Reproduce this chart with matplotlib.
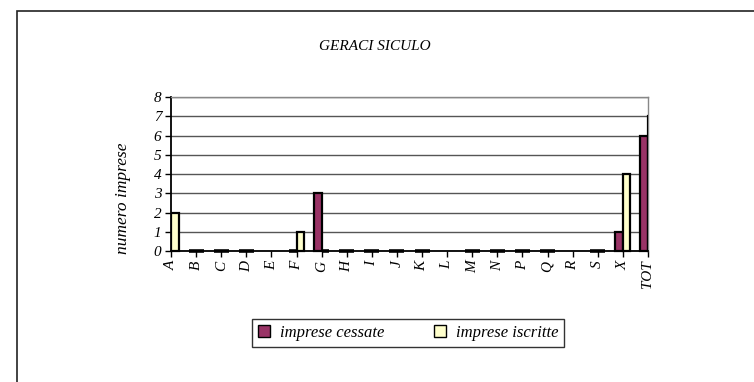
import numpy as np
import matplotlib
matplotlib.use("Agg")
import matplotlib.pyplot as plt
from matplotlib.patches import Rectangle
from matplotlib.transforms import Bbox, TransformedBbox

# Sector codes and counts of businesses
categories = ["A", "B", "C", "D", "E", "F", "G", "H", "I", "J", "K", "L",
              "M", "N", "P", "Q", "R", "S", "X", "TOT"]
cessate = [0, 0, 0, 0, np.nan, 0, 3, 0, 0, 0, 0, np.nan,
           0, 0, 0, 0, np.nan, 0, 1, 6]
iscritte = [2, 0, 0, 0, np.nan, 1, 0, 0, 0, 0, 0, np.nan,
            0, 0, 0, 0, np.nan, 0, 4, 7]
yticks = list(range(0, 9))

title = "GERACI SICULO"
ylabel = "numero imprese"
series_names = ["imprese cessate", "imprese iscritte"]

plt.rcParams["font.family"] = ["Liberation Serif", "DejaVu Serif"]

W, H = 754, 382
fig = plt.figure(figsize=(W / 100, H / 100), dpi=100)

# outer chart frame
fig.patches.append(Rectangle((17 / W, -0.1), 1.2, (1 - 11 / H) + 0.1,
                             transform=fig.transFigure, fill=False,
                             edgecolor="#222222", linewidth=1.2))

ax = fig.add_axes([171 / W, 1 - 251 / H, (648 - 171) / W, (251 - 97) / H])

x = np.arange(len(categories))
bw = 0.3
purple = "#993366"
yellow = "#FFFFCC"

b1 = ax.bar(x - bw / 2, cessate, width=bw, color=purple, edgecolor="black",
            linewidth=1.6, label=series_names[0], zorder=3)
b2 = ax.bar(x + bw / 2, iscritte, width=bw, color=yellow, edgecolor="black",
            linewidth=1.6, label=series_names[1], zorder=3)

# clip bars horizontally to the plot, but let zero-height bars show below the axis line
clip = TransformedBbox(Bbox([[0, -0.05], [1, 1.05]]), ax.transAxes)
for container, vals in ((b1, cessate), (b2, iscritte)):
    for patch, v in zip(container.patches, vals):
        patch.set_clip_box(clip)
        if v == 0:
            patch.set_linewidth(2.6)

ax.set_xlim(0, len(categories) - 1)
ax.set_ylim(0, 8)
ax.set_yticks(yticks)
ax.set_yticklabels([str(v) for v in yticks], fontstyle="italic", fontsize=11)
ax.set_xticks(x)
ax.set_xticklabels(categories, rotation=90, fontstyle="italic", fontsize=11)

ax.yaxis.grid(True, color="#555555", linewidth=1.0, zorder=0)
ax.set_axisbelow(True)

for side in ("left", "bottom"):
    ax.spines[side].set_color("black")
    ax.spines[side].set_linewidth(1.3)
for side in ("top", "right"):
    ax.spines[side].set_color("#888888")
    ax.spines[side].set_linewidth(1.0)

ax.tick_params(axis="both", direction="out", length=4, width=1.0,
               color="black", pad=3)

ax.set_ylabel(ylabel, fontstyle="italic", fontsize=12.5)
ax.yaxis.set_label_coords(-0.083, 0.34)
fig.text(375 / W, 1 - 46 / H, title, ha="center", va="center",
         fontstyle="italic", fontsize=11)

handles, labels = ax.get_legend_handles_labels()
leg = fig.legend(handles, labels, loc="center", ncol=2,
                 bbox_to_anchor=(408 / W, 1 - 333 / H),
                 prop={"style": "italic", "size": 12},
                 frameon=True, fancybox=False, edgecolor="black",
                 handlelength=0.7, handleheight=0.7, handletextpad=0.6,
                 columnspacing=3.0, borderpad=0.35)
leg.get_frame().set_linewidth(1.0)
for p in leg.get_patches():
    p.set_linewidth(1.0)

fig.savefig("out.png", dpi=100, facecolor="white")
